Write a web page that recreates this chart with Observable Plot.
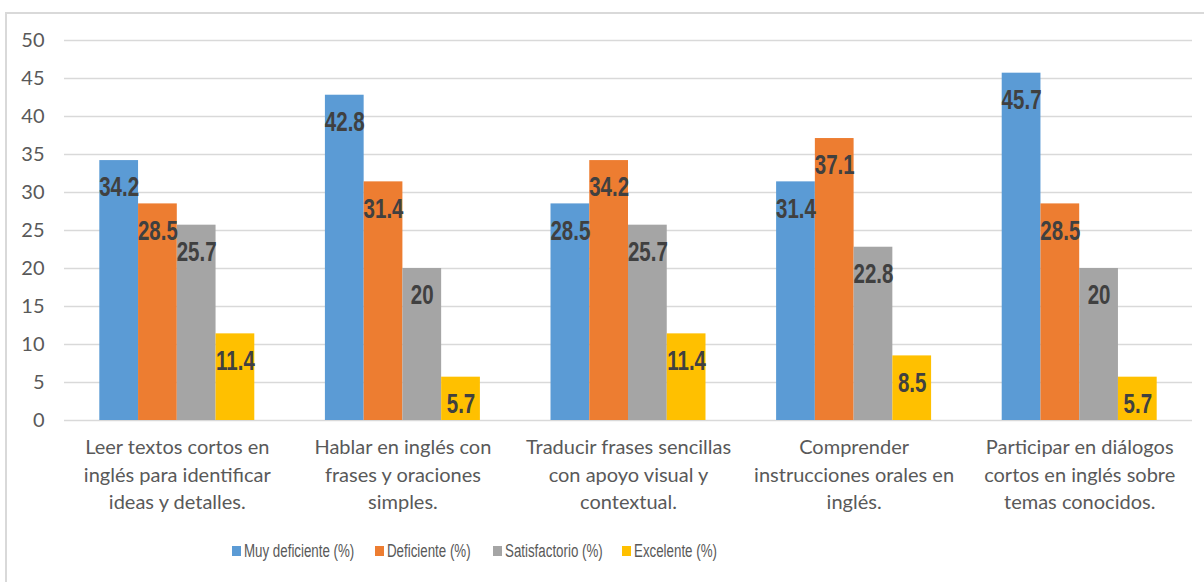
<!DOCTYPE html>
<html><head><meta charset="utf-8">
<script src="https://cdn.jsdelivr.net/npm/d3@7"></script>
<script src="https://cdn.jsdelivr.net/npm/@observablehq/plot@0.6"></script>
<style>
body{margin:0;background:#fff;}
#wrap{position:relative;width:1204px;height:582px;overflow:hidden;background:#fff;}
#border{position:absolute;left:5px;top:12px;width:1300px;height:700px;border:2px solid #d9d9d9;box-sizing:border-box;}
#grid,#chart{position:absolute;left:0;top:0;}
#legend{position:absolute;left:0;top:541px;width:1204px;height:20px;font-family:"Liberation Sans","Arial",sans-serif;font-size:18px;color:#595959;white-space:nowrap;}
.item{position:absolute;top:0;height:20px;display:flex;align-items:center;}
.sw{width:9px;height:10px;margin-right:3px;flex:none;}
.tx{display:inline-block;transform:scaleX(0.74);transform-origin:left center;line-height:20px;}
</style></head>
<body>
<div id="wrap"><div id="border"></div><div id="grid"></div><div id="chart"></div><div id="legend"></div></div>
<script>
const categories = [
  "Leer textos cortos en\ninglés para identificar\nideas y detalles.",
  "Hablar en inglés con\nfrases y oraciones\nsimples.",
  "Traducir frases sencillas\ncon apoyo visual y\ncontextual.",
  "Comprender\ninstrucciones orales en\ninglés.",
  "Participar en diálogos\ncortos en inglés sobre\ntemas conocidos."
];
const series = ["Muy deficiente (%)", "Deficiente (%)", "Satisfactorio (%)", "Excelente (%)"];
const muyDeficiente = [34.2, 42.8, 28.5, 31.4, 45.7];
const deficiente = [28.5, 31.4, 34.2, 37.1, 28.5];
const satisfactorio = [25.7, 20, 25.7, 22.8, 20];
const excelente = [11.4, 5.7, 11.4, 8.5, 5.7];
const yTicks = [0, 5, 10, 15, 20, 25, 30, 35, 40, 45, 50];
const colors = ["#5B9BD5", "#ED7D31", "#A5A5A5", "#FFC000"];

const seriesValues = [muyDeficiente, deficiente, satisfactorio, excelente];
const data = [];
categories.forEach((c, i) => series.forEach((s, j) => data.push({category: c, series: s, value: seriesValues[j][i]})));

const common = {
  width: 1204, height: 525,
  marginLeft: 64, marginRight: 12, marginTop: 40, marginBottom: 105,
  style: {fontFamily: "Lato, sans-serif", fontSize: "20px", color: "#595959", background: "transparent"}
};

// Background: gridlines and y tick labels spanning the full plot width
const grid = Plot.plot({
  ...common,
  y: {domain: [0, 50], ticks: yTicks, label: null},
  marks: [
    Plot.ruleY(yTicks, {stroke: "#d9d9d9", strokeWidth: 1.5}),
    Plot.axisY({ticks: yTicks, tickSize: 0, tickPadding: 20, label: null, fontSize: 20, fill: "#595959"})
  ]
});
document.getElementById("grid").appendChild(grid);

// Foreground: grouped bars
const chart = Plot.plot({
  ...common,
  fx: {domain: categories, paddingInner: 0.313, paddingOuter: 0.1565, round: false, label: null},
  x: {domain: series, padding: 0, round: false, axis: null},
  y: {domain: [0, 50], axis: null},
  color: {domain: series, range: colors},
  marks: [
    Plot.barY(data, {fx: "category", x: "series", y: "value", fill: "series"}),
    Plot.text(data, {fx: "category", x: "series", y: "value", text: d => String(d.value), dy: 27,
      fill: "#404040", fontFamily: "Liberation Sans, Arial, sans-serif", fontWeight: "bold", fontSize: 27,
      className: "vlabel"}),
    Plot.axisFx({anchor: "bottom", tickSize: 0, tickPadding: 14, label: null, lineHeight: 1.375, fontSize: 20, fill: "#595959"})
  ]
});
// condense the value labels horizontally (narrow bold look)
chart.querySelectorAll(".vlabel text").forEach(t => {
  const tr = t.getAttribute("transform") || "";
  t.setAttribute("transform", tr + " scale(0.76,1)");
});
document.getElementById("chart").appendChild(chart);

const legendLeft = [232, 375, 493, 622];
const legend = document.getElementById("legend");
series.forEach((s, j) => {
  const it = document.createElement("div"); it.className = "item"; it.style.left = legendLeft[j] + "px";
  const sw = document.createElement("div"); sw.className = "sw"; sw.style.background = colors[j];
  const tx = document.createElement("span"); tx.className = "tx"; tx.textContent = s;
  it.appendChild(sw); it.appendChild(tx); legend.appendChild(it);
});
</script>
</body></html>
